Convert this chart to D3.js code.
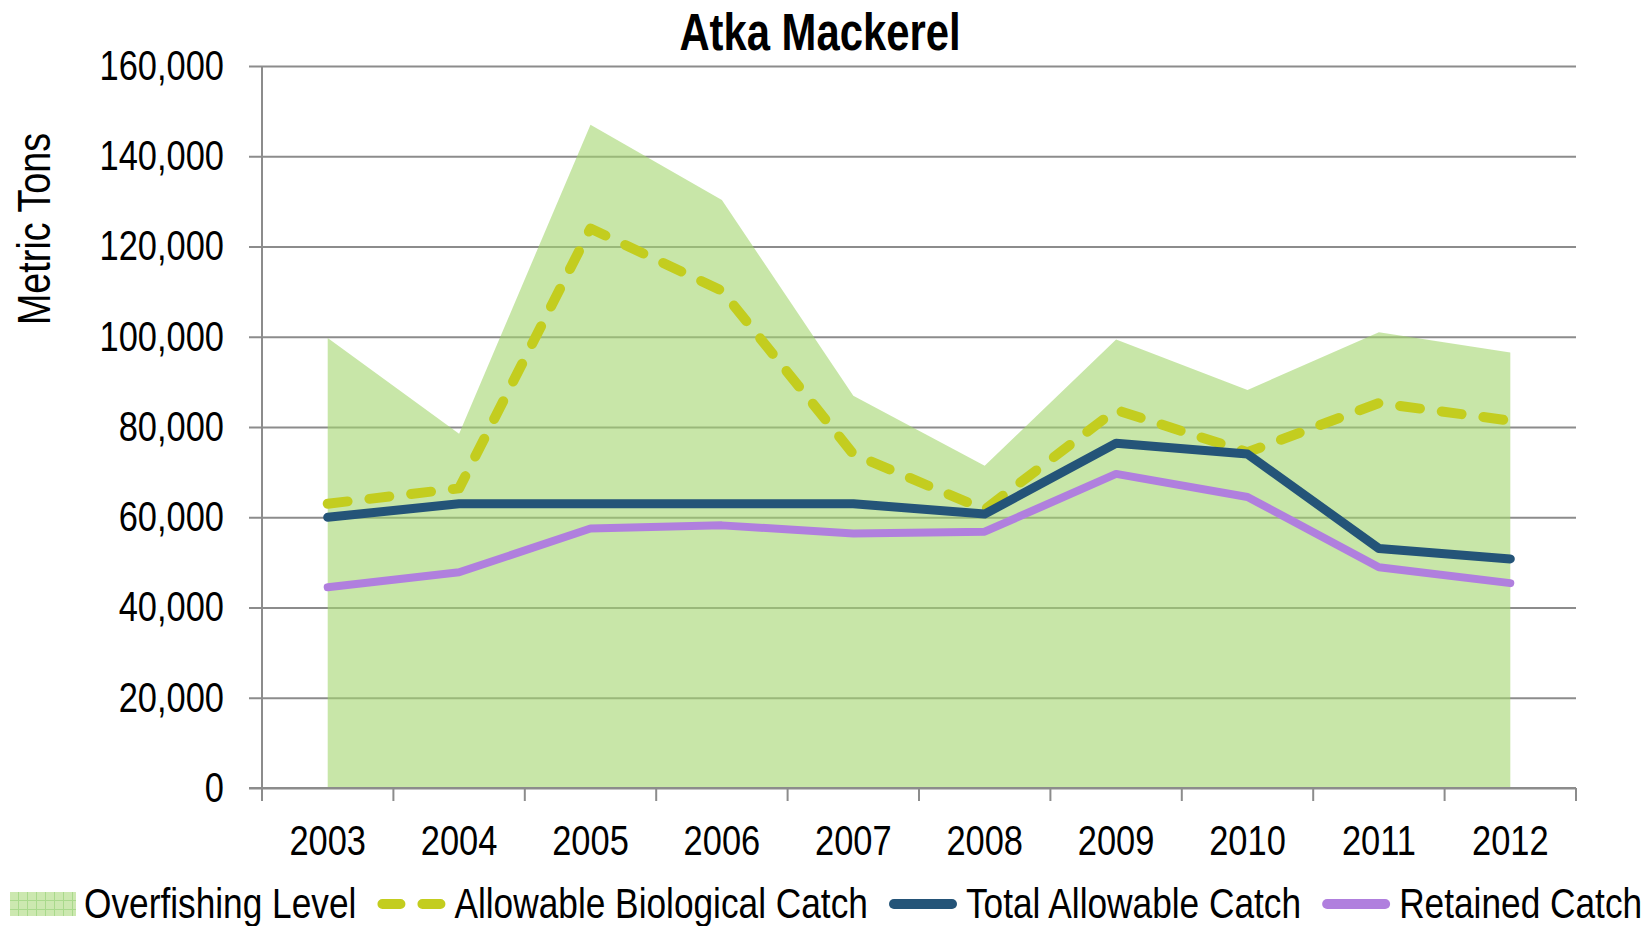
<!DOCTYPE html>
<html>
<head>
<meta charset="utf-8">
<script src="https://cdn.jsdelivr.net/npm/d3@7"></script>
<style>
  body { margin: 0; background: #fff; }
  text { font-family: "Liberation Sans", Arial, sans-serif; fill: #000; }
</style>
</head>
<body>
<div id="chart"></div>
<script>
// values (metric tons)
var years = ["2003", "2004", "2005", "2006", "2007", "2008", "2009", "2010", "2011", "2012"];
var overfishing = [99700, 78500, 147000, 130300, 86900, 71400, 99400, 88200, 101000, 96500];
var abc = [63000, 66400, 124000, 110200, 74000, 61700, 83800, 74400, 85300, 81400];
var tac = [60000, 63000, 63000, 63000, 63000, 60700, 76400, 74000, 53080, 50763];
var retained = [44500, 47800, 57500, 58200, 56400, 56800, 69600, 64500, 48900, 45400];
var yTicks = [0, 20000, 40000, 60000, 80000, 100000, 120000, 140000, 160000];

var width = 1648;
var height = 926;
var plotLeft = 262, plotRight = 1576, plotTop = 66, plotBottom = 788;
var narrowK = 0.82;  // squeeze Liberation Sans to look like Arial Narrow

// horizontal squeeze of a text around its own anchor point
function narrow(sel) {
    sel.each(function() {
        var t = d3.select(this);
        var tx = +t.attr("x") || 0, ty = +t.attr("y") || 0;
        t.attr("transform", "translate(" + tx + "," + ty + ") scale(" + narrowK + ",1) translate(" + (-tx) + "," + (-ty) + ")");
    });
}

var svg = d3.select("#chart").append("svg")
    .attr("width", width)
    .attr("height", height);

var defs = svg.append("defs");
var pat = defs.append("pattern")
    .attr("id", "gridfill")
    .attr("width", 9).attr("height", 9)
    .attr("patternUnits", "userSpaceOnUse");
pat.append("rect").attr("width", 9).attr("height", 9).attr("fill", "#cce8b0");
pat.append("path").attr("d", "M0,0.5H9M0.5,0V9").attr("stroke", "#a9d98c").attr("stroke-width", 1);

var x = d3.scaleBand().domain(years).range([plotLeft, plotRight]).padding(0);
var y = d3.scaleLinear().domain([0, 160000]).range([plotBottom, plotTop]);
var cx = function(i) { return x(years[i]) + x.bandwidth() / 2; };

// gridlines + y labels
var yAxis = svg.append("g")
    .attr("transform", "translate(" + plotLeft + ",0)")
    .call(d3.axisLeft(y).tickValues(yTicks).tickSize(13).tickPadding(25).tickFormat(d3.format(",")));
yAxis.select(".domain").remove();
yAxis.selectAll(".tick line")
    .attr("x1", -13).attr("x2", plotRight - plotLeft)
    .attr("stroke", "#8c8c8c").attr("stroke-width", 2);
yAxis.selectAll(".tick text").style("font-size", "42px").call(narrow);

// overfishing level area
var area = d3.area()
    .x(function(d, i) { return cx(i); })
    .y0(y(0))
    .y1(function(d) { return y(d); });
svg.append("path")
    .datum(overfishing)
    .attr("d", area)
    .attr("fill", "#a3d56e")
    .attr("fill-opacity", 0.6);

// axis lines
svg.append("line")
    .attr("x1", plotLeft).attr("x2", plotLeft).attr("y1", plotTop).attr("y2", plotBottom)
    .attr("stroke", "#8c8c8c").attr("stroke-width", 2);

var xAxis = svg.append("g")
    .attr("transform", "translate(0," + plotBottom + ")")
    .call(d3.axisBottom(x).tickSize(0));
xAxis.select(".domain").attr("stroke", "#8c8c8c").attr("stroke-width", 2).attr("d", "M249,0H" + plotRight);
xAxis.selectAll(".tick text").attr("y", 67).attr("dy", 0).style("font-size", "42px").call(narrow);
var bounds = years.map(function(d) { return x(d); }).concat([plotRight]);
xAxis.selectAll(".bound")
    .data(bounds)
    .enter().append("line")
    .attr("x1", function(d) { return d; }).attr("x2", function(d) { return d; })
    .attr("y1", 0).attr("y2", 13)
    .attr("stroke", "#8c8c8c").attr("stroke-width", 2);

// series lines
var line = d3.line()
    .x(function(d, i) { return cx(i); })
    .y(function(d) { return y(d); });

var series = [
    { name: "Allowable Biological Catch", values: abc, color: "#c3cd1f", w: 10, dash: "20,22" },
    { name: "Total Allowable Catch", values: tac, color: "#245478", w: 9, dash: null },
    { name: "Retained Catch", values: retained, color: "#b07fde", w: 8, dash: null }
];

series.forEach(function(s) {
    svg.append("path")
        .datum(s.values)
        .attr("d", line)
        .attr("fill", "none")
        .attr("stroke", s.color)
        .attr("stroke-width", s.w)
        .attr("stroke-linecap", "round")
        .attr("stroke-linejoin", "round")
        .attr("stroke-dasharray", s.dash);
});

// title
svg.append("text")
    .attr("x", 820).attr("y", 50)
    .attr("text-anchor", "middle")
    .style("font-size", "51px")
    .style("font-weight", "bold")
    .text("Atka Mackerel")
    .call(narrow);

// y label
svg.append("text")
    .attr("transform", "translate(50,229) rotate(-90) scale(" + narrowK + ",1)")
    .attr("text-anchor", "middle")
    .style("font-size", "46px")
    .text("Metric Tons");

// legend
var legend = svg.append("g");
var lx = 10, ly = 904;

legend.append("rect")
    .attr("x", lx).attr("y", ly - 12).attr("width", 66).attr("height", 24)
    .attr("fill", "url(#gridfill)");
var t0 = legend.append("text").attr("x", lx + 74).attr("y", ly + 14)
    .style("font-size", "43px").text("Overfishing Level");
lx = lx + 74 + t0.node().getComputedTextLength() * narrowK + 21;
t0.call(narrow);

series.forEach(function(s) {
    legend.append("line")
        .attr("x1", lx + 5).attr("x2", lx + 63).attr("y1", ly).attr("y2", ly)
        .attr("stroke", s.color)
        .attr("stroke-width", 10)
        .attr("stroke-linecap", "round")
        .attr("stroke-dasharray", s.dash ? "18,22" : null);
    var t = legend.append("text").attr("x", lx + 77).attr("y", ly + 14)
        .style("font-size", "43px").text(s.name);
    lx = lx + 77 + t.node().getComputedTextLength() * narrowK + 21;
    t.call(narrow);
});
</script>
</body>
</html>
